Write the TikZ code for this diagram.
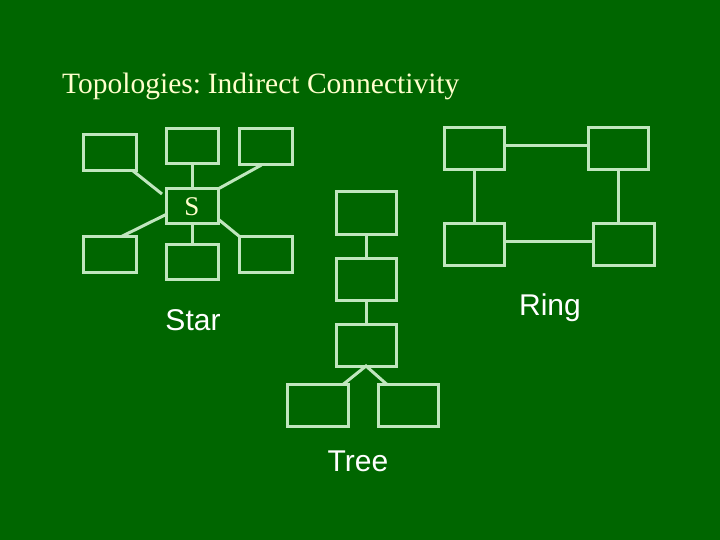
\documentclass[tikz,border=0pt]{standalone}
\usepackage{fontspec}
\setmainfont{Liberation Serif}
\setsansfont{Liberation Sans}
\usepackage{tikz}
\usetikzlibrary{positioning,calc}
\definecolor{slidegreen}{RGB}{0,102,0}
\definecolor{linkgreen}{RGB}{192,230,190}
\definecolor{titleyellow}{RGB}{255,255,204}
\tikzset{
 unit/.style={draw=linkgreen,line width=3pt,inner sep=0pt,outer sep=0pt,minimum width=53pt,minimum height=36pt},
 bigunit/.style={unit,minimum width=60pt,minimum height=42pt},
 link/.style={draw=linkgreen,line width=3pt},
 toplabel/.style={text=white,font=\sffamily\fontsize{30}{36}\selectfont,inner sep=0pt}
}

\begin{document}
\begin{tikzpicture}[x=1pt,y=-1pt]
 \fill[slidegreen] (0,0) rectangle (720,540);
 \useasboundingbox (0,0) rectangle (720,540);
 \node[anchor=base west,inner sep=0pt,text=titleyellow,font=\fontsize{29.5}{36}\selectfont] (title) at (62,94) {Topologies:\hspace{-3pt} Indirect Connectivity};
 % star
 \node[unit] (sw) at (110,152.5) {};
 \node[unit,minimum width=52pt,minimum height=35pt] (sn) at (192,146.5) {};
 \node[unit] (se) at (266,147) {};
 \node[unit,minimum width=52pt,minimum height=35pt,text=titleyellow,font=\fontsize{27}{30}\selectfont] (hub) at (192,206.5) {S};
 \node[unit] (bw) at (110,254.5) {};
 \node[unit,minimum width=52pt,minimum height=35pt] (bn) at (192,261.5) {};
 \node[unit] (be) at (266,254.5) {};
 \draw[link] ([xshift=-4pt]sw.south east) -- ([xshift=-4pt,yshift=-5pt]hub.north west);
 \draw[link] (sn) -- (hub);
 \draw[link] ([xshift=22pt]se.south west) -- (hub.north east);
 \draw[link] ([yshift=-8pt]hub.west) -- ([xshift=-15pt]bw.north east);
 \draw[link] (hub) -- (bn);
 \draw[link] ([yshift=5pt]hub.south east) -- (be.north west);
 \node[toplabel] (starname) at (193,320) {Star};
 % ring
 \node[bigunit] (ra) at (474,149) {};
 \node[bigunit] (rb) at (618,149) {};
 \node[bigunit] (rc) at (474,244.5) {};
 \node[bigunit,minimum width=61pt] (rd) at (623.5,244.5) {};
 \draw[link] ([yshift=3pt]ra.east) -- ([yshift=3pt]rb.west);
 \draw[link] (ra) -- (rc);
 \draw[link] (rb.south) -- (rb.south |- rd.north);
 \draw[link] ([yshift=3pt]rc.east) -- ([yshift=3pt]rc.east -| rd.west);
 \node[toplabel] (ringname) at (550,308) {Ring};
 % tree
 \node[bigunit] (ta) at (366,213) {};
 \node[bigunit] (tb) at (366,279) {};
 \node[bigunit] (tc) at (366,345) {};
 \node[bigunit,minimum width=61pt] (tl) at (317.5,405.5) {};
 \node[bigunit] (tr) at (408,405.5) {};
 \draw[link] (ta) -- (tb);
 \draw[link] (tb) -- (tc);
 \draw[link] ([xshift=-5pt]tl.north east) -- (tc.south) -- ([xshift=9pt]tr.north west);
 \node[toplabel] (treename) at (358,461) {Tree};
\end{tikzpicture}
\end{document}
